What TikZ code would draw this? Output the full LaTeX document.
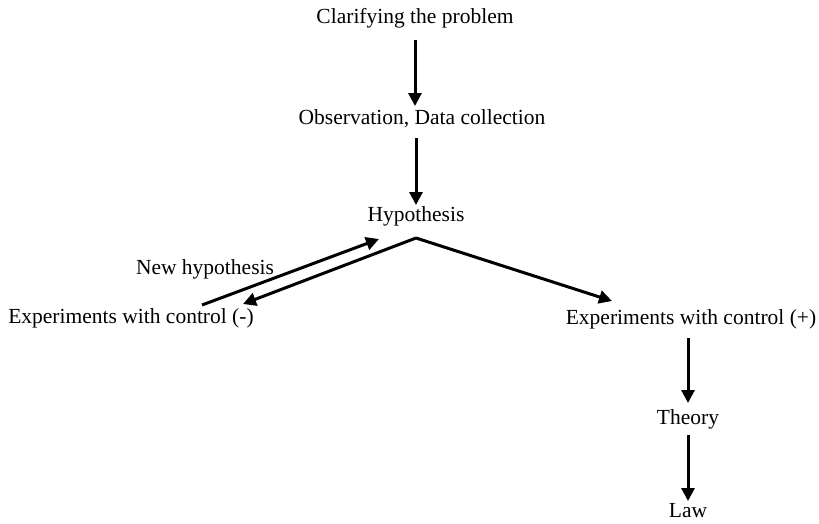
\documentclass[tikz,border=0pt]{standalone}
\usepackage{fontspec}
\setmainfont{Liberation Serif}
\usetikzlibrary{arrows.meta}
\begin{document}
\begin{tikzpicture}[x=1pt,y=-1pt,
  lbl/.style={inner sep=0pt,font=\fontsize{21.5}{24}\selectfont},
  arr/.style={line width=3pt,-{Triangle[length=13pt,width=13pt]}}]
\useasboundingbox (0,0) rectangle (819,523);
\node[lbl] (clar) at (415,18) {Clarifying the problem};
\node[lbl] (obs) at (422,119) {Observation, Data collection};
\node[lbl] (hyp) at (416,216) {Hypothesis};
\node[lbl] (newh) at (205,269) {New hypothesis};
\node[lbl] (expm) at (131,318) {Experiments with control (-)};
\node[lbl] (expp) at (691,319) {Experiments with control (+)};
\node[lbl] (theo) at (688,419) {Theory};
\node[lbl] (law) at (688,511) {Law};
\coordinate (a1s) at (415,40);
\coordinate (a1e) at (415,106);
\coordinate (a2s) at (416,138);
\coordinate (a2e) at (416,205);
\coordinate (apex) at (416,238);
\coordinate (lt) at (243,304);
\coordinate (rt) at (612,301);
\coordinate (ns) at (202,305);
\coordinate (ne) at (379,239);
\coordinate (a3s) at (688,338);
\coordinate (a3e) at (688,403);
\coordinate (a4s) at (688,435);
\coordinate (a4e) at (688,501);
\draw[arr] (a1s) -- (a1e);
\draw[arr] (a2s) -- (a2e);
\draw[arr] (apex) -- (lt);
\draw[arr] (apex) -- (rt);
\draw[arr] (ns) -- (ne);
\draw[arr] (a3s) -- (a3e);
\draw[arr] (a4s) -- (a4e);
\end{tikzpicture}
\end{document}
